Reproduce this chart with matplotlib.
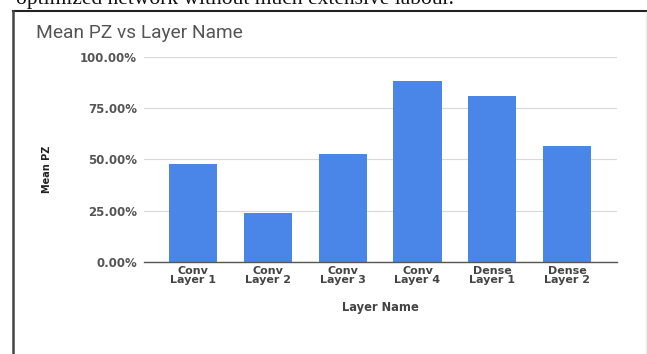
import matplotlib
matplotlib.use("Agg")
import matplotlib.pyplot as plt
from matplotlib.ticker import FuncFormatter
from matplotlib.lines import Line2D

categories = ["Conv\nLayer 1", "Conv\nLayer 2", "Conv\nLayer 3", "Conv\nLayer 4", "Dense\nLayer 1", "Dense\nLayer 2"]
mean_pz = [47.6, 23.7, 52.9, 88.3, 80.9, 56.6]
y_ticks = [0, 25, 50, 75, 100]

W, H = 647, 354
fig = plt.figure(figsize=(W / 100, H / 100), dpi=100)
fig.patch.set_facecolor("white")

ax = fig.add_axes([144 / W, 1 - 262 / H, (617 - 144) / W, (262 - 57) / H])
x = list(range(len(categories)))
ax.bar(x, mean_pz, width=0.645, color="#4a86e8", zorder=3)
ax.set_xlim(-0.66, len(categories) - 1 + 0.67)
ax.set_ylim(0, 100)
ax.set_yticks(y_ticks)
ax.yaxis.set_major_formatter(FuncFormatter(lambda v, p: f"{v:.2f}%"))
ax.set_xticks(x)
ax.set_xticklabels(categories, fontsize=8, fontweight="bold", color="#444444",
                   family="DejaVu Sans", linespacing=0.9)
for lbl in ax.get_yticklabels():
    lbl.set_fontsize(8.5)
    lbl.set_fontweight("bold")
    lbl.set_color("#555555")
    lbl.set_family("DejaVu Sans")
ax.tick_params(axis="both", length=0)
ax.tick_params(axis="y", pad=5)
ax.tick_params(axis="x", pad=3)
ax.grid(axis="y", color="#d9d9d9", linewidth=0.8, zorder=0)
for s in ["top", "right", "left"]:
    ax.spines[s].set_visible(False)
ax.spines["bottom"].set_color("#555555")
ax.spines["bottom"].set_linewidth(1.0)
ax.spines["bottom"].set_zorder(4)

fig.text(380 / W, 1 - 308 / H, "Layer Name", ha="center", va="center",
         fontsize=8.3, fontweight="bold", color="#444444", family="DejaVu Sans")
fig.text(47 / W, 1 - 169 / H, "Mean PZ", ha="center", va="center", rotation=90,
         fontsize=7, fontweight="bold", color="#222222", family="DejaVu Sans")

fig.text(36 / W, 1 - 33 / H, "Mean PZ vs Layer Name", ha="left", va="center",
         fontsize=13.8, color="#555555", family="Roboto")

# page text clipped at top and frame
fig.text(16 / W, 1 - 4 / H, "optimized network without much extensive labour.", ha="left",
         va="baseline", fontsize=15.5, color="#111111", family="Liberation Serif")
fig.add_artist(Line2D([13 / W, 1], [1 - 10.5 / H, 1 - 10.5 / H], color="#222222", linewidth=1.5))
fig.add_artist(Line2D([13 / W, 13 / W], [0, 1 - 10.5 / H], color="#444444", linewidth=1.8))
fig.add_artist(Line2D([646 / W, 646 / W], [0, 1 - 12 / H], color="#eeeeee", linewidth=1))

fig.savefig("out.png", dpi=100)
